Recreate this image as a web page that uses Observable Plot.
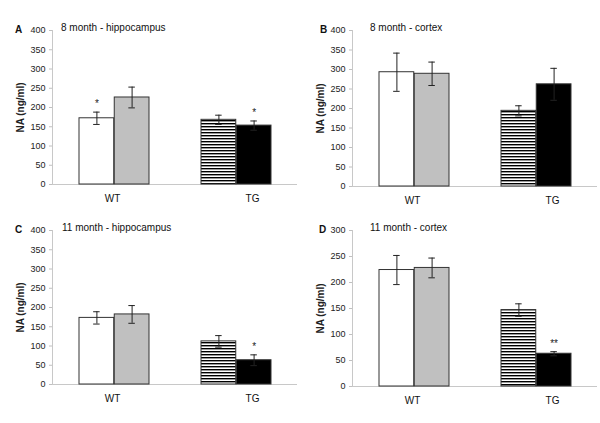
<!DOCTYPE html>
<html><head><meta charset="utf-8">
<script src="https://cdn.jsdelivr.net/npm/d3@7"></script>
<script src="https://cdn.jsdelivr.net/npm/@observablehq/plot@0.6"></script>
<style>
body{margin:0;background:#fff;font-family:"Liberation Sans",Arial,sans-serif;}
#root{position:relative;width:600px;height:423px;overflow:hidden;}
.panel{position:absolute;}
.letter{position:absolute;font-weight:bold;font-size:10px;line-height:12px;color:#111;}
.title{position:absolute;font-size:10px;line-height:12px;color:#111;white-space:nowrap;}
svg [aria-label="y-axis label"]{font-weight:bold;font-size:10px;}
</style></head><body><div id="root"></div>
<script>
// ---- data ----
const genotypes = ["WT", "TG"];
const seriesNames = ["s1", "s2"];
const panelLetters = ["A", "B", "C", "D"];
const panelTitles = ["8 month - hippocampus", "8 month - cortex", "11 month - hippocampus", "11 month - cortex"];
const yMaxes = [400, 400, 400, 300];
const yTickStep = 50;
const yLabel = "NA (ng/ml)";

// values in order WT-s1, WT-s2, TG-s1, TG-s2
const meansA = [172, 226, 168, 153];
const errsA  = [16, 27, 12, 12];
const starsA = ["*", "", "", "*"];

const meansB = [293, 289, 194, 262];
const errsB  = [49, 30, 13, 41];
const starsB = ["", "", "", ""];

const meansC = [173, 182, 112, 63];
const errsC  = [16, 23, 15, 14];
const starsC = ["", "", "", "*"];

const meansD = [224, 228, 147, 63];
const errsD  = [28, 19, 12, 4];
const starsD = ["", "", "", "**"];

const panelMeans = [meansA, meansB, meansC, meansD];
const panelErrs = [errsA, errsB, errsC, errsD];
const panelStars = [starsA, starsB, starsC, starsD];

// ---- layout / style ----
const layouts = [
  {left: 0,   top: 0,   height: 210, mt: 30, mb: 26, letterX: 15, titleX: 61, labelY: 30},
  {left: 300, top: 0,   height: 210, mt: 30, mb: 24, letterX: 320, titleX: 370, labelY: 30},
  {left: 0,   top: 210, height: 213, mt: 20, mb: 39, letterX: 15, titleX: 62, labelY: 230},
  {left: 300, top: 210, height: 213, mt: 20, mb: 37, letterX: 319, titleX: 370, labelY: 230}
];
const barOuter = 26, barInner = 61.25, errShift = 17.6, capHalf = 3.5, bandW = 122.5;
const seriesFill = (g, si, pid) => g === "WT" ? (si === 0 ? "white" : "#c0c0c0") : (si === 0 ? `url(#${pid})` : "black");

const root = document.getElementById("root");
const ns = "http://www.w3.org/2000/svg";

panelLetters.forEach((letter, pi) => {
  const L = layouts[pi];
  const pid = "stripes" + pi;
  const rows = [];
  genotypes.forEach((g, gi) => seriesNames.forEach((s, si) => {
    const k = gi * 2 + si;
    rows.push({genotype: g, series: s, si, mean: panelMeans[pi][k], err: panelErrs[pi][k], star: panelStars[pi][k], fill: seriesFill(g, si, pid)});
  }));
  const yTicks = d3.range(0, yMaxes[pi] + 1, yTickStep);
  const marks = [
    Plot.ruleY([0], {stroke: "#c8c8c8"}),
    Plot.frame({anchor: "left", stroke: "#c8c8c8"}),
    Plot.axisY({ticks: yTicks, tickSize: 3, tickPadding: 4, stroke: "#c0c0c0", fill: "#222", fontSize: 9,
      label: yLabel, labelAnchor: "center", labelOffset: 36, labelArrow: "none"}),
    Plot.axisX({ticks: ["WT"], tickSize: 0, tickPadding: 10, fontSize: 10, fill: "#111", dx: -2, label: null}),
    Plot.axisX({ticks: ["TG"], tickSize: 0, tickPadding: 10, fontSize: 10, fill: "#111", dx: 16, label: null})
  ];
  seriesNames.forEach((s, si) => {
    const sub = rows.filter(d => d.si === si);
    const inL = si === 0 ? barOuter : barInner;
    const inR = si === 0 ? barInner : barOuter;
    const dx = si === 0 ? -errShift : errShift;
    const center = bandW / 2 + dx;
    const cl = center - capHalf, cr = bandW - center - capHalf;
    marks.push(Plot.barY(sub, {x: "genotype", y: "mean", fill: "fill", stroke: "#333", strokeWidth: 1, insetLeft: inL, insetRight: inR}));
    marks.push(Plot.ruleX(sub, {x: "genotype", y1: d => d.mean - d.err, y2: d => d.mean + d.err, stroke: "#222", dx}));
    marks.push(Plot.tickY(sub, {x: "genotype", y: d => d.mean + d.err, stroke: "#222", insetLeft: cl, insetRight: cr}));
    marks.push(Plot.tickY(sub, {x: "genotype", y: d => d.mean - d.err, stroke: "#222", insetLeft: cl, insetRight: cr}));
    marks.push(Plot.text(sub.filter(d => d.star), {x: "genotype", y: d => d.mean + d.err, text: "star", dx, dy: -8, fontSize: 10, fill: "#222"}));
  });
  const chart = Plot.plot({
    width: 300, height: L.height,
    marginTop: L.mt, marginBottom: L.mb, marginLeft: 52, marginRight: 3,
    style: {fontFamily: '"Liberation Sans", Arial, sans-serif', fontSize: "9px", background: "white", color: "#222"},
    x: {domain: genotypes, padding: 0, axis: null},
    y: {domain: [0, yMaxes[pi]], axis: null},
    color: {type: "identity"},
    marks
  });
  const defs = document.createElementNS(ns, "defs");
  defs.innerHTML = `<pattern id="${pid}" patternUnits="userSpaceOnUse" width="4" height="3"><rect width="4" height="3" fill="white"/><rect width="4" height="1.4" fill="black"/></pattern>`;
  chart.prepend(defs);
  const wrap = document.createElement("div");
  wrap.className = "panel";
  wrap.style.left = L.left + "px";
  wrap.style.top = L.top + "px";
  wrap.appendChild(chart);
  root.appendChild(wrap);
  const le = document.createElement("div");
  le.className = "letter"; le.textContent = letter;
  le.style.left = L.letterX + "px"; le.style.top = (L.labelY - 6) + "px";
  root.appendChild(le);
  const te = document.createElement("div");
  te.className = "title"; te.textContent = panelTitles[pi];
  te.style.left = L.titleX + "px"; te.style.top = (L.labelY - 8) + "px";
  root.appendChild(te);
});
</script></body></html>
